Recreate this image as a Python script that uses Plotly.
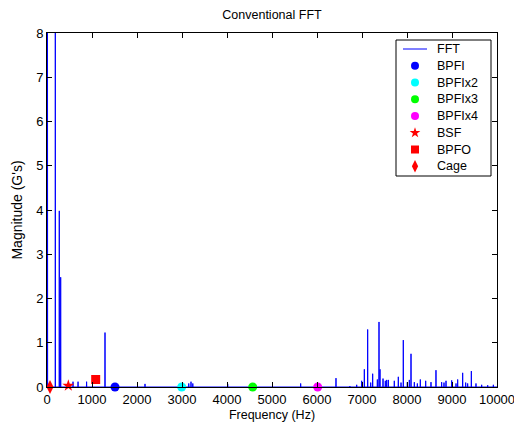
import plotly.graph_objects as go

# FFT spike data (Hz, magnitude G's)
spike_freq = [10, 185, 273, 304, 578, 690, 880, 1289, 2178, 3150, 3200, 3240, 4015,
              5637, 6422, 6730, 6882, 6993, 7052, 7126, 7193, 7237, 7341, 7378, 7400,
              7467, 7518, 7548, 7585, 7718, 7807, 7867, 7918, 8007, 8052, 8089, 8163,
              8230, 8296, 8415, 8533, 8644, 8770, 8822, 8867, 8993, 9089, 9126, 9237,
              9304, 9348, 9430, 9533, 9659, 9793, 9919]
spike_mag = [12, 12, 3.98, 2.48, 0.12, 0.12, 0.12, 1.23, 0.07, 0.08, 0.12, 0.08, 0.07,
             0.08, 0.2, 0.02, 0.05, 0.14, 0.40, 1.30, 0.10, 0.30, 0.17, 1.47, 0.40,
             0.19, 0.14, 0.16, 0.16, 0.14, 0.23, 0.10, 1.06, 0.11, 0.16, 0.75, 0.11,
             0.08, 0.17, 0.14, 0.11, 0.38, 0.11, 0.10, 0.14, 0.15, 0.08, 0.17, 0.32,
             0.10, 0.08, 0.36, 0.08, 0.05, 0.04, 0.05]
x_start, x_end = 0, 10000

# Fault frequency markers: name, (freq, magnitude), colour, symbol, size
marker_names = ["BPFI", "BPFIx2", "BPFIx3", "BPFIx4", "BSF", "BPFO", "Cage"]
marker_freq = [1511, 2993, 4571, 6015, 474, 1082, 67]
marker_mag = [0, 0, 0, 0, 0.03, 0.17, 0]
marker_colors = ["#0000FF", "#00FFFF", "#00FF00", "#FF00FF", "#FF0000", "#FF0000", "#FF0000"]
marker_symbols = ["circle", "circle", "circle", "circle", "star", "square", "diamond-tall"]
marker_sizes = [9, 9, 9, 9, 9, 9, 10]

# build FFT line: baseline at zero with narrow spikes
fx, fy = [x_start], [0]
for f, m in zip(spike_freq, spike_mag):
    fx += [f - 4, f, f + 4]
    fy += [0, m, 0]
fx.append(x_end)
fy.append(0)

FONT = "Liberation Sans, Arial, sans-serif"
W, H = 514, 424
L, R, T, B = 47, 17, 33, 37

fig = go.Figure()
fig.add_trace(go.Scatter(x=fx, y=fy, mode="lines", name="FFT", showlegend=False,
                         line=dict(color="#0000FF", width=1)))
for n, f, m, c, s, z in zip(marker_names, marker_freq, marker_mag, marker_colors,
                            marker_symbols, marker_sizes):
    fig.add_trace(go.Scatter(x=[f], y=[m], mode="markers", name=n, showlegend=False,
                             marker=dict(color=c, symbol=s, size=z, line=dict(width=0)),
                             cliponaxis=False))

# ---- custom legend (MATLAB style) on a pixel-coordinate overlay axis ----
lg_left, lg_right, lg_top, lg_bottom = 396, 491, 40, 176
row0, row_gap = 49, 16.75
sym_x, line_x0, line_x1, text_x = 415, 403, 427, 435
leg_names = ["FFT"] + marker_names
fig.add_shape(type="rect", xref="x2", yref="y2", x0=lg_left, x1=lg_right,
              y0=lg_top, y1=lg_bottom, line=dict(color="black", width=1),
              fillcolor="white", layer="below")
fig.add_trace(go.Scatter(x=[line_x0, line_x1], y=[row0, row0], mode="lines",
                         xaxis="x2", yaxis="y2", showlegend=False, hoverinfo="skip",
                         line=dict(color="#0000FF", width=1)))
for i, (c, s, z) in enumerate(zip(marker_colors, marker_symbols, marker_sizes)):
    fig.add_trace(go.Scatter(x=[sym_x], y=[row0 + (i + 1) * row_gap], mode="markers",
                             xaxis="x2", yaxis="y2", showlegend=False, hoverinfo="skip",
                             cliponaxis=False,
                             marker=dict(color=c, symbol=s, size=z - 1, line=dict(width=0))))
for i, n in enumerate(leg_names):
    fig.add_annotation(x=text_x, y=row0 + i * row_gap, xref="x2", yref="y2", text=n,
                       showarrow=False, xanchor="left", yanchor="middle",
                       font=dict(family=FONT, size=12.5, color="black"))

axis_common = dict(showline=True, linecolor="black", linewidth=1, mirror="ticks",
                   ticks="inside", ticklen=5, tickcolor="black", showgrid=False,
                   zeroline=False, automargin=False, ticklabeloverflow="allow",
                   tickfont=dict(family=FONT, size=13, color="black"))
fig.update_xaxes(range=[x_start, x_end], tick0=0, dtick=1000, tickformat="d",
                 title=dict(text="Frequency (Hz)", font=dict(family=FONT, size=12.5, color="black"),
                            standoff=4),
                 **axis_common)
fig.update_yaxes(range=[0, 8], tick0=0, dtick=1,
                 title=dict(text="Magnitude (G's)", font=dict(family=FONT, size=14, color="black"),
                            standoff=10),
                 **axis_common)

fig.update_layout(
    width=W, height=H,
    margin=dict(l=L, r=R, t=T, b=B),
    paper_bgcolor="white", plot_bgcolor="white",
    xaxis2=dict(overlaying="x", range=[L, W - R], visible=False, fixedrange=True),
    yaxis2=dict(overlaying="y", range=[H - B, T], visible=False, fixedrange=True),
    title=dict(text="Conventional FFT", x=(L + (W - L - R) / 2) / W, xanchor="center",
               y=1 - 15 / H, yanchor="middle",
               font=dict(family=FONT, size=12.5, color="black")),
    font=dict(family=FONT, size=12.5, color="black"),
    showlegend=False,
)

fig.write_html("out.html")
